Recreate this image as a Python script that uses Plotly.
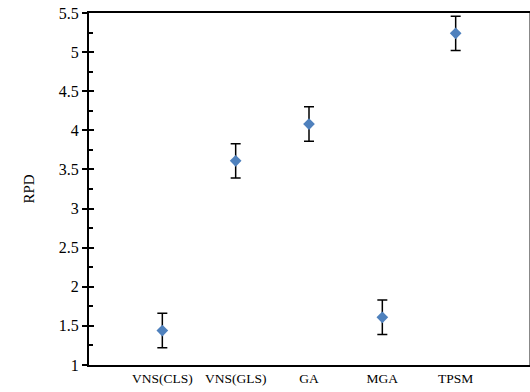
import plotly.graph_objects as go

categories = ["VNS(CLS)", "VNS(GLS)", "GA", "MGA", "TPSM"]
positions = [1, 2, 3, 4, 5]
rpd = [1.44, 3.61, 4.08, 1.61, 5.24]
err = [0.22, 0.22, 0.22, 0.22, 0.22]
yticks = [1, 1.5, 2, 2.5, 3, 3.5, 4, 4.5, 5, 5.5]

font = "Liberation Serif, DejaVu Serif, serif"

fig = go.Figure()
fig.add_trace(go.Scatter(
    x=positions, y=rpd, mode="markers",
    marker=dict(symbol="diamond", size=9, color="#4F81BD"),
    error_y=dict(type="data", array=err, color="black", thickness=1.5, width=5),
    showlegend=False,
))
# invisible traces for overlay axes
fig.add_trace(go.Scatter(x=[positions[0]], y=[rpd[0]], yaxis="y2", mode="markers",
                         marker=dict(opacity=0), showlegend=False, hoverinfo="skip"))
fig.add_trace(go.Scatter(x=[positions[0]], y=[rpd[0]], yaxis="y3", mode="markers",
                         marker=dict(opacity=0), showlegend=False, hoverinfo="skip"))

fig.update_layout(
    width=530, height=392,
    margin=dict(l=89, r=1, t=13, b=27),
    paper_bgcolor="white", plot_bgcolor="white",
    font=dict(family=font, size=13, color="black"),
    xaxis=dict(
        range=[0, 6], tickvals=positions, ticktext=categories,
        showgrid=False, zeroline=False, ticks="",
        showline=True, linecolor="black", linewidth=1.5, mirror=True,
        tickfont=dict(size=13.5, family=font),
    ),
    yaxis=dict(
        range=[1, 5.5], tickvals=yticks, ticktext=[str(v) for v in yticks],
        showgrid=False, zeroline=False,
        ticks="outside", ticklen=5, tickwidth=1.5, tickcolor="black",
        showline=True, linecolor="black", linewidth=2,
        title=dict(text="RPD", font=dict(size=15, family=font), standoff=21),
        tickfont=dict(size=16, family=font),
    ),
    yaxis2=dict(
        range=[1, 5.5], overlaying="y", side="left", tickvals=yticks,
        showticklabels=False, showgrid=False, zeroline=False,
        ticks="inside", ticklen=5, tickwidth=1.5, tickcolor="black",
        minor=dict(ticks="inside", dtick=0.25, tick0=1, ticklen=4, tickwidth=1.5, tickcolor="black"),
        showline=False,
    ),
    yaxis3=dict(
        range=[1, 5.5], overlaying="y", side="right",
        showticklabels=False, showgrid=False, zeroline=False, ticks="",
        showline=True, linecolor="#888888", linewidth=1,
    ),
)

fig.write_html("out.html")
